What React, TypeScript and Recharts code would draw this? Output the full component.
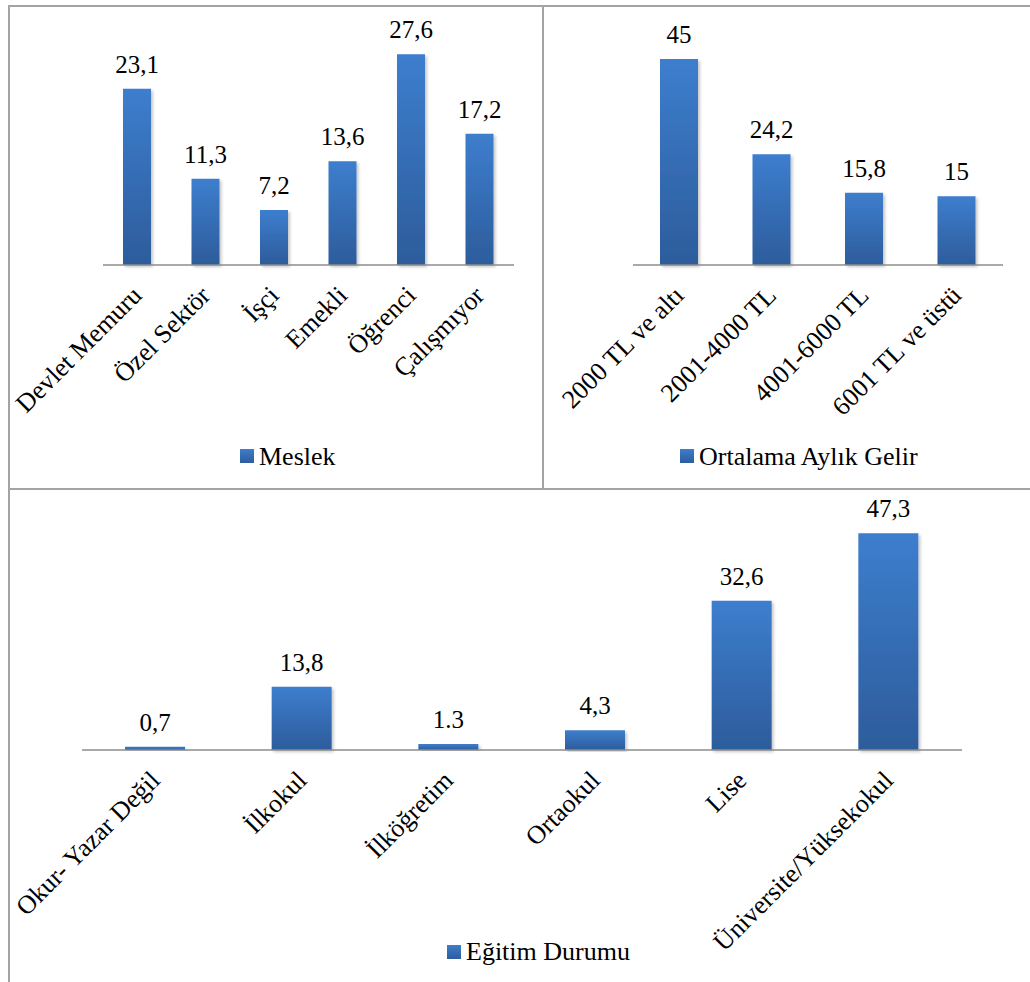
import React from 'react';
import { BarChart, Bar, XAxis, YAxis, Legend, LabelList } from 'recharts';

const meslekCategories = ['Devlet Memuru', 'Özel Sektör', 'İşçi', 'Emekli', 'Öğrenci', 'Çalışmıyor'];
const meslekValues = [23.1, 11.3, 7.2, 13.6, 27.6, 17.2];
const meslekLabels = ['23,1', '11,3', '7,2', '13,6', '27,6', '17,2'];

const gelirCategories = ['2000 TL ve altı', '2001-4000 TL', '4001-6000 TL', '6001 TL ve üstü'];
const gelirValues = [45, 24.2, 15.8, 15];
const gelirLabels = ['45', '24,2', '15,8', '15'];

const egitimCategories = ['Okur- Yazar Değil', 'İlkokul', 'İlköğretim', 'Ortaokul', 'Lise', 'Üniversite/Yüksekokul'];
const egitimValues = [0.7, 13.8, 1.3, 4.3, 32.6, 47.3];
const egitimLabels = ['0,7', '13,8', '1.3', '4,3', '32,6', '47,3'];

const FONT = '"Liberation Serif", "Times New Roman", serif';
const BORDER = '#A3A3A3';

const toRows = (cats: string[], vals: number[], labels: string[]) =>
  cats.map((name, i) => ({ name, value: vals[i], label: labels[i] }));

const RotatedTick = (props: any) => {
  const { x, y, payload } = props;
  const tx = x + 6;
  const ty = y + 24;
  return (
    <text
      x={tx}
      y={ty}
      textAnchor="end"
      transform={`rotate(-45, ${tx}, ${ty})`}
      fontSize={26}
      fontFamily={FONT}
      fill="#000"
    >
      {payload.value}
    </text>
  );
};

// value label above each bar, baseline 16px over the bar top
const ValueLabel = (props: any) => {
  const { x, y, width, value } = props;
  return (
    <text
      x={x + width / 2}
      y={y - 16}
      textAnchor="middle"
      fontSize={25}
      fontFamily={FONT}
      fill="#000"
    >
      {value}
    </text>
  );
};

const makeLegend = (name: string, gradId: string, textY: number) => () => (
  <svg width={320} height={36} style={{ display: 'block', overflow: 'visible' }}>
    <rect x={0} y={9} width={14} height={14} fill={`url(#${gradId})`} />
    <text x={19} y={textY} fontSize={26} fontFamily={FONT} fill="#000">
      {name}
    </text>
  </svg>
);

interface PanelProps {
  id: string;
  name: string;
  rows: { name: string; value: number; label: string }[];
  width: number;
  height: number;
  margin: { top: number; right: number; bottom: number; left: number };
  axisHeight: number;
  max: number;
  barSize: number;
  legendPos: { left: number; top: number };
  legendTextY: number;
}

function Panel({ id, name, rows, width, height, margin, axisHeight, max, barSize, legendPos, legendTextY }: PanelProps) {
  const gradId = `grad-${id}`;
  return (
    <BarChart width={width} height={height} data={rows} margin={margin}>
      <defs>
        <linearGradient id={gradId} x1="0" y1="0" x2="0" y2="1">
          <stop offset="0%" stopColor="#3D7ECE" />
          <stop offset="100%" stopColor="#2D5C9B" />
        </linearGradient>
        <filter id={`shadow-${id}`} x="-20%" y="-5%" width="150%" height="115%">
          <feDropShadow dx="2" dy="2" stdDeviation="1.5" floodColor="#000" floodOpacity="0.22" />
        </filter>
      </defs>
      <XAxis
        dataKey="name"
        height={axisHeight}
        interval={0}
        tickLine={false}
        axisLine={{ stroke: '#8C8C8C', strokeWidth: 1.5 }}
        tick={<RotatedTick />}
      />
      <YAxis hide domain={[0, max]} />
      <Legend
        layout="horizontal"
        verticalAlign="middle"
        align="center"
        content={makeLegend(name, gradId, legendTextY)}
        wrapperStyle={{ left: legendPos.left, top: legendPos.top, width: 320 }}
      />
      <Bar
        dataKey="value"
        name={name}
        barSize={barSize}
        fill={`url(#${gradId})`}
        filter={`url(#shadow-${id})`}
        isAnimationActive={false}
      >
        <LabelList dataKey="label" content={<ValueLabel />} />
      </Bar>
    </BarChart>
  );
}

const line = (style: React.CSSProperties) => (
  <div style={{ position: 'absolute', background: BORDER, ...style }} />
);

export default function App() {
  return (
    <div style={{ position: 'absolute', left: 0, top: 0, width: 1030, height: 982, background: '#fff', overflow: 'hidden' }}>
      <div style={{ position: 'absolute', left: 0, top: 0 }}>
        <Panel
          id="meslek"
          name="Meslek"
          rows={toRows(meslekCategories, meslekValues, meslekLabels)}
          width={543}
          height={488}
          margin={{ top: 36, right: 29, bottom: 0, left: 103 }}
          axisHeight={223}
          max={30}
          barSize={28}
          legendPos={{ left: 240, top: 440 }}
          legendTextY={25}
        />
      </div>
      <div style={{ position: 'absolute', left: 543, top: 0 }}>
        <Panel
          id="gelir"
          name="Ortalama Aylık Gelir"
          rows={toRows(gelirCategories, gelirValues, gelirLabels)}
          width={487}
          height={488}
          margin={{ top: 36, right: 27, bottom: 0, left: 90 }}
          axisHeight={223}
          max={50}
          barSize={38}
          legendPos={{ left: 137, top: 440 }}
          legendTextY={25}
        />
      </div>
      <div style={{ position: 'absolute', left: 0, top: 489 }}>
        <Panel
          id="egitim"
          name="Eğitim Durumu"
          rows={toRows(egitimCategories, egitimValues, egitimLabels)}
          width={1030}
          height={493}
          margin={{ top: 32, right: 68, bottom: 0, left: 82 }}
          axisHeight={232}
          max={50}
          barSize={60}
          legendPos={{ left: 447, top: 447 }}
          legendTextY={24}
        />
      </div>
      {line({ left: 8, top: 5, width: 1022, height: 2 })}
      {line({ left: 8, top: 5, width: 2, height: 977 })}
      {line({ left: 542, top: 5, width: 2, height: 484 })}
      {line({ left: 8, top: 488, width: 1022, height: 2 })}
    </div>
  );
}
